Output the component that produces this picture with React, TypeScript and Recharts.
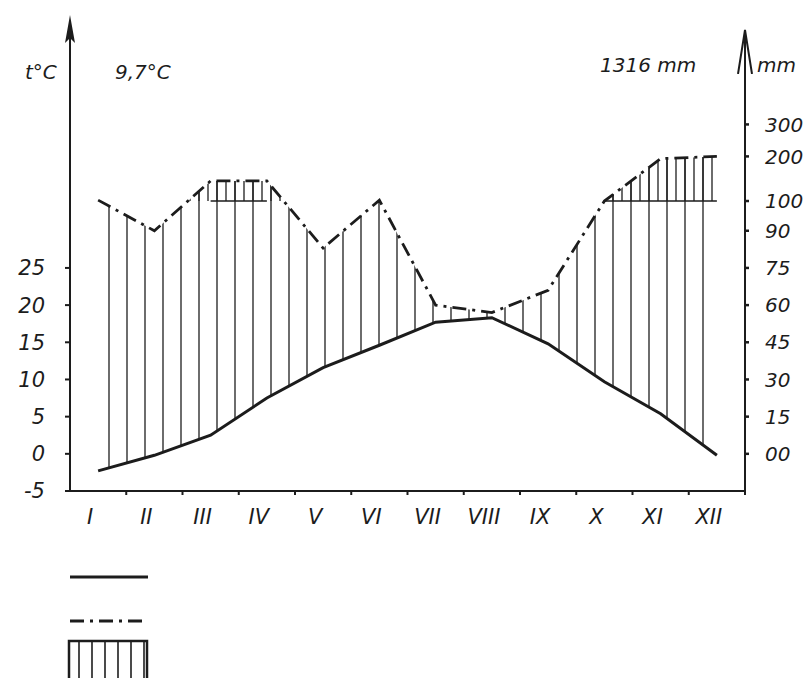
import { ComposedChart, Line, Area, XAxis, YAxis, ReferenceArea, Legend } from "recharts";

const months = ["I", "II", "III", "IV", "V", "VI", "VII", "VIII", "IX", "X", "XI", "XII"];
const temperature = [-2.3, -0.2, 2.5, 7.5, 11.6, 14.6, 17.7, 18.3, 14.8, 9.7, 5.4, -0.2];
const precipitation = [102, 90, 145, 145, 83, 102, 60, 57, 66, 100, 195, 200];
const tempTicks = [-5, 0, 5, 10, 15, 20, 25];
const precipTicks = [0, 15, 30, 45, 60, 75, 90, 100, 200, 300];
const precipTickLabels = ["00", "15", "30", "45", "60", "75", "90", "100", "200", "300"];
const meanTempLabel = "9,7°C";
const totalPrecipLabel = "1316 mm";

// precipitation scale: 1 °C = 3 mm below 100 mm, squeezed above it
const scaleMm = [0, 90, 100, 200, 300];
const scaleUnits = [0, 30, 34, 40, 44.3];

const T_MAX = 57;
const INK = "#1c1c1c";
const FONT = "'DejaVu Sans', sans-serif";
const PRECIP_DASH = "14 6 3 6";

function mmToUnits(mm: number) {
  for (let i = 1; i < scaleMm.length; i++) {
    if (mm <= scaleMm[i] || i === scaleMm.length - 1) {
      const f = (mm - scaleMm[i - 1]) / (scaleMm[i] - scaleMm[i - 1]);
      return scaleUnits[i - 1] + f * (scaleUnits[i] - scaleUnits[i - 1]);
    }
  }
  return 0;
}

const CAP = mmToUnits(100);
const precipTickUnits = precipTicks.map(mmToUnits);
const xTicks = months.flatMap((_, i) => [i + 1, i + 1.5]);

const rows = months.map((m, i) => {
  const p = mmToUnits(precipitation[i]);
  return {
    x: i + 1,
    month: m,
    t: temperature[i],
    p,
    humid: [temperature[i], p],
    cap: precipitation[i] >= 100 ? CAP : null,
  };
});

function MonthTick(props: any) {
  const { x, y, payload } = props;
  const v = payload.value;
  if (Number.isInteger(v)) {
    return (
      <text x={x - 8} y={y + 33} textAnchor="middle" fontSize={21} fontStyle="italic" fontFamily={FONT} fill={INK}>
        {months[v - 1]}
      </text>
    );
  }
  return <line x1={x} y1={y} x2={x} y2={y + 4} stroke={INK} strokeWidth={2} />;
}

function CapClip(props: any) {
  const { x, y, width, height } = props;
  return (
    <clipPath id="aboveCap">
      <rect x={x} y={y - 40} width={width} height={height + 40} />
    </clipPath>
  );
}

// vertical slot of each legend symbol, keyed by series
const legendSlot: Record<string, number> = { t: 17, p: 61, humid: 81 };

function renderLegend(props: any) {
  const items = (props.payload || []).filter((it: any) => it.type !== "none" && it.dataKey in legendSlot);
  return (
    <svg width={100} height={118}>
      <defs>
        <pattern id="legendHatch" patternUnits="userSpaceOnUse" width={13} height={8}>
          <line x1={6} y1={0} x2={6} y2={8} stroke={INK} strokeWidth={1.6} />
        </pattern>
      </defs>
      {items.map((it: any, i: number) => {
        const yy = legendSlot[it.dataKey];
        if (it.type === "rect") {
          return (
            <rect key={i} x={9} y={yy} width={78} height={40} fill="url(#legendHatch)" stroke={INK} strokeWidth={2.5} />
          );
        }
        return (
          <line
            key={i}
            x1={10}
            y1={yy}
            x2={88}
            y2={yy}
            stroke={INK}
            strokeWidth={3}
            strokeDasharray={it.dataKey === "p" ? PRECIP_DASH : undefined}
          />
        );
      })}
    </svg>
  );
}

export default function App() {
  return (
    <div style={{ position: "absolute", left: 0, top: 0, width: 809, height: 678, background: "#fff", overflow: "hidden" }}>
      <ComposedChart width={809} height={678} data={rows} margin={{ top: 30, right: 10, bottom: 147, left: 10 }}>
        <defs>
          <pattern id="hatchSparse" patternUnits="userSpaceOnUse" width={18} height={8}>
            <line x1={1} y1={0} x2={1} y2={8} stroke={INK} strokeWidth={1.3} />
          </pattern>
          <pattern id="hatchDense" patternUnits="userSpaceOnUse" width={9} height={8}>
            <line x1={1} y1={0} x2={1} y2={8} stroke={INK} strokeWidth={1.3} />
          </pattern>
          <marker id="arrowFilled" viewBox="0 0 28 10" markerWidth={28} markerHeight={10} refX={13} refY={5} orient="auto-start-reverse" markerUnits="userSpaceOnUse">
            <path d="M0,0 L28,5 L0,10 L5,5 Z" fill={INK} />
          </marker>
          <marker id="arrowOpen" viewBox="0 0 45 16" markerWidth={45} markerHeight={16} refX={44} refY={8} orient="auto-start-reverse" markerUnits="userSpaceOnUse">
            <path d="M0,1 L44,8 L0,15" fill="none" stroke={INK} strokeWidth={2} />
          </marker>
        </defs>
        <ReferenceArea yAxisId="t" x1={0.5} x2={12.5} y1={CAP} y2={T_MAX} shape={CapClip} ifOverflow="visible" />
        <XAxis
          type="number"
          dataKey="x"
          domain={[0.5, 12.5]}
          ticks={xTicks}
          interval={0}
          height={40}
          tickSize={0}
          tickMargin={0}
          tickLine={false}
          tick={<MonthTick />}
          axisLine={{ stroke: INK, strokeWidth: 2 }}
        />
        <YAxis
          yAxisId="t"
          domain={[-5, T_MAX]}
          ticks={tempTicks}
          allowDataOverflow
          width={60}
          tickSize={5}
          tickMargin={20}
          axisLine={{ stroke: INK, strokeWidth: 2, markerStart: "url(#arrowFilled)" }}
          tickLine={{ stroke: INK, strokeWidth: 2 }}
          tick={{ fill: INK, fontSize: 21, fontStyle: "italic", fontFamily: FONT }}
        />
        <YAxis
          yAxisId="p"
          orientation="right"
          domain={[-5, T_MAX]}
          ticks={precipTickUnits}
          allowDataOverflow
          width={54}
          tickSize={4}
          tickMargin={16}
          tickFormatter={(_v: number, i: number) => precipTickLabels[i]}
          axisLine={{ stroke: INK, strokeWidth: 2, markerStart: "url(#arrowOpen)" }}
          tickLine={{ stroke: INK, strokeWidth: 2.5 }}
          tick={{ fill: INK, fontSize: 20, fontStyle: "italic", fontFamily: FONT }}
        />
        <Area
          yAxisId="t"
          dataKey="humid"
          name="okres wilgotny"
          type="linear"
          fill="url(#hatchSparse)"
          fillOpacity={1}
          stroke="none"
          legendType="rect"
          isAnimationActive={false}
        />
        <Area
          yAxisId="t"
          dataKey="humid"
          name="opad > 100 mm"
          type="linear"
          fill="url(#hatchDense)"
          fillOpacity={1}
          stroke="none"
          clipPath="url(#aboveCap)"
          legendType="none"
          isAnimationActive={false}
        />
        <Line
          yAxisId="t"
          dataKey="cap"
          type="linear"
          stroke={INK}
          strokeWidth={1.6}
          dot={false}
          connectNulls={false}
          legendType="none"
          isAnimationActive={false}
        />
        <Line
          yAxisId="t"
          dataKey="t"
          name="temperatura"
          type="linear"
          stroke={INK}
          strokeWidth={3}
          dot={false}
          isAnimationActive={false}
        />
        <Line
          yAxisId="p"
          dataKey="p"
          name="opady"
          type="linear"
          stroke={INK}
          strokeWidth={2.8}
          strokeDasharray={PRECIP_DASH}
          dot={false}
          isAnimationActive={false}
        />
        <Legend
          verticalAlign="middle"
          align="center"
          layout="horizontal"
          wrapperStyle={{ left: 60, top: 560, width: 100, height: 118 }}
          content={renderLegend}
        />
      </ComposedChart>
      <div style={{ position: "absolute", left: 25, top: 62, fontSize: 20, lineHeight: 1, fontStyle: "italic", fontFamily: FONT, color: INK }}>
        t°C
      </div>
      <div style={{ position: "absolute", left: 115, top: 62, fontSize: 20, lineHeight: 1, fontStyle: "italic", fontFamily: FONT, color: INK }}>
        {meanTempLabel}
      </div>
      <div style={{ position: "absolute", left: 600, top: 55, fontSize: 20, lineHeight: 1, fontStyle: "italic", fontFamily: FONT, color: INK }}>
        {totalPrecipLabel}
      </div>
      <div style={{ position: "absolute", left: 757, top: 55, fontSize: 20, lineHeight: 1, fontStyle: "italic", fontFamily: FONT, color: INK }}>
        mm
      </div>
    </div>
  );
}
